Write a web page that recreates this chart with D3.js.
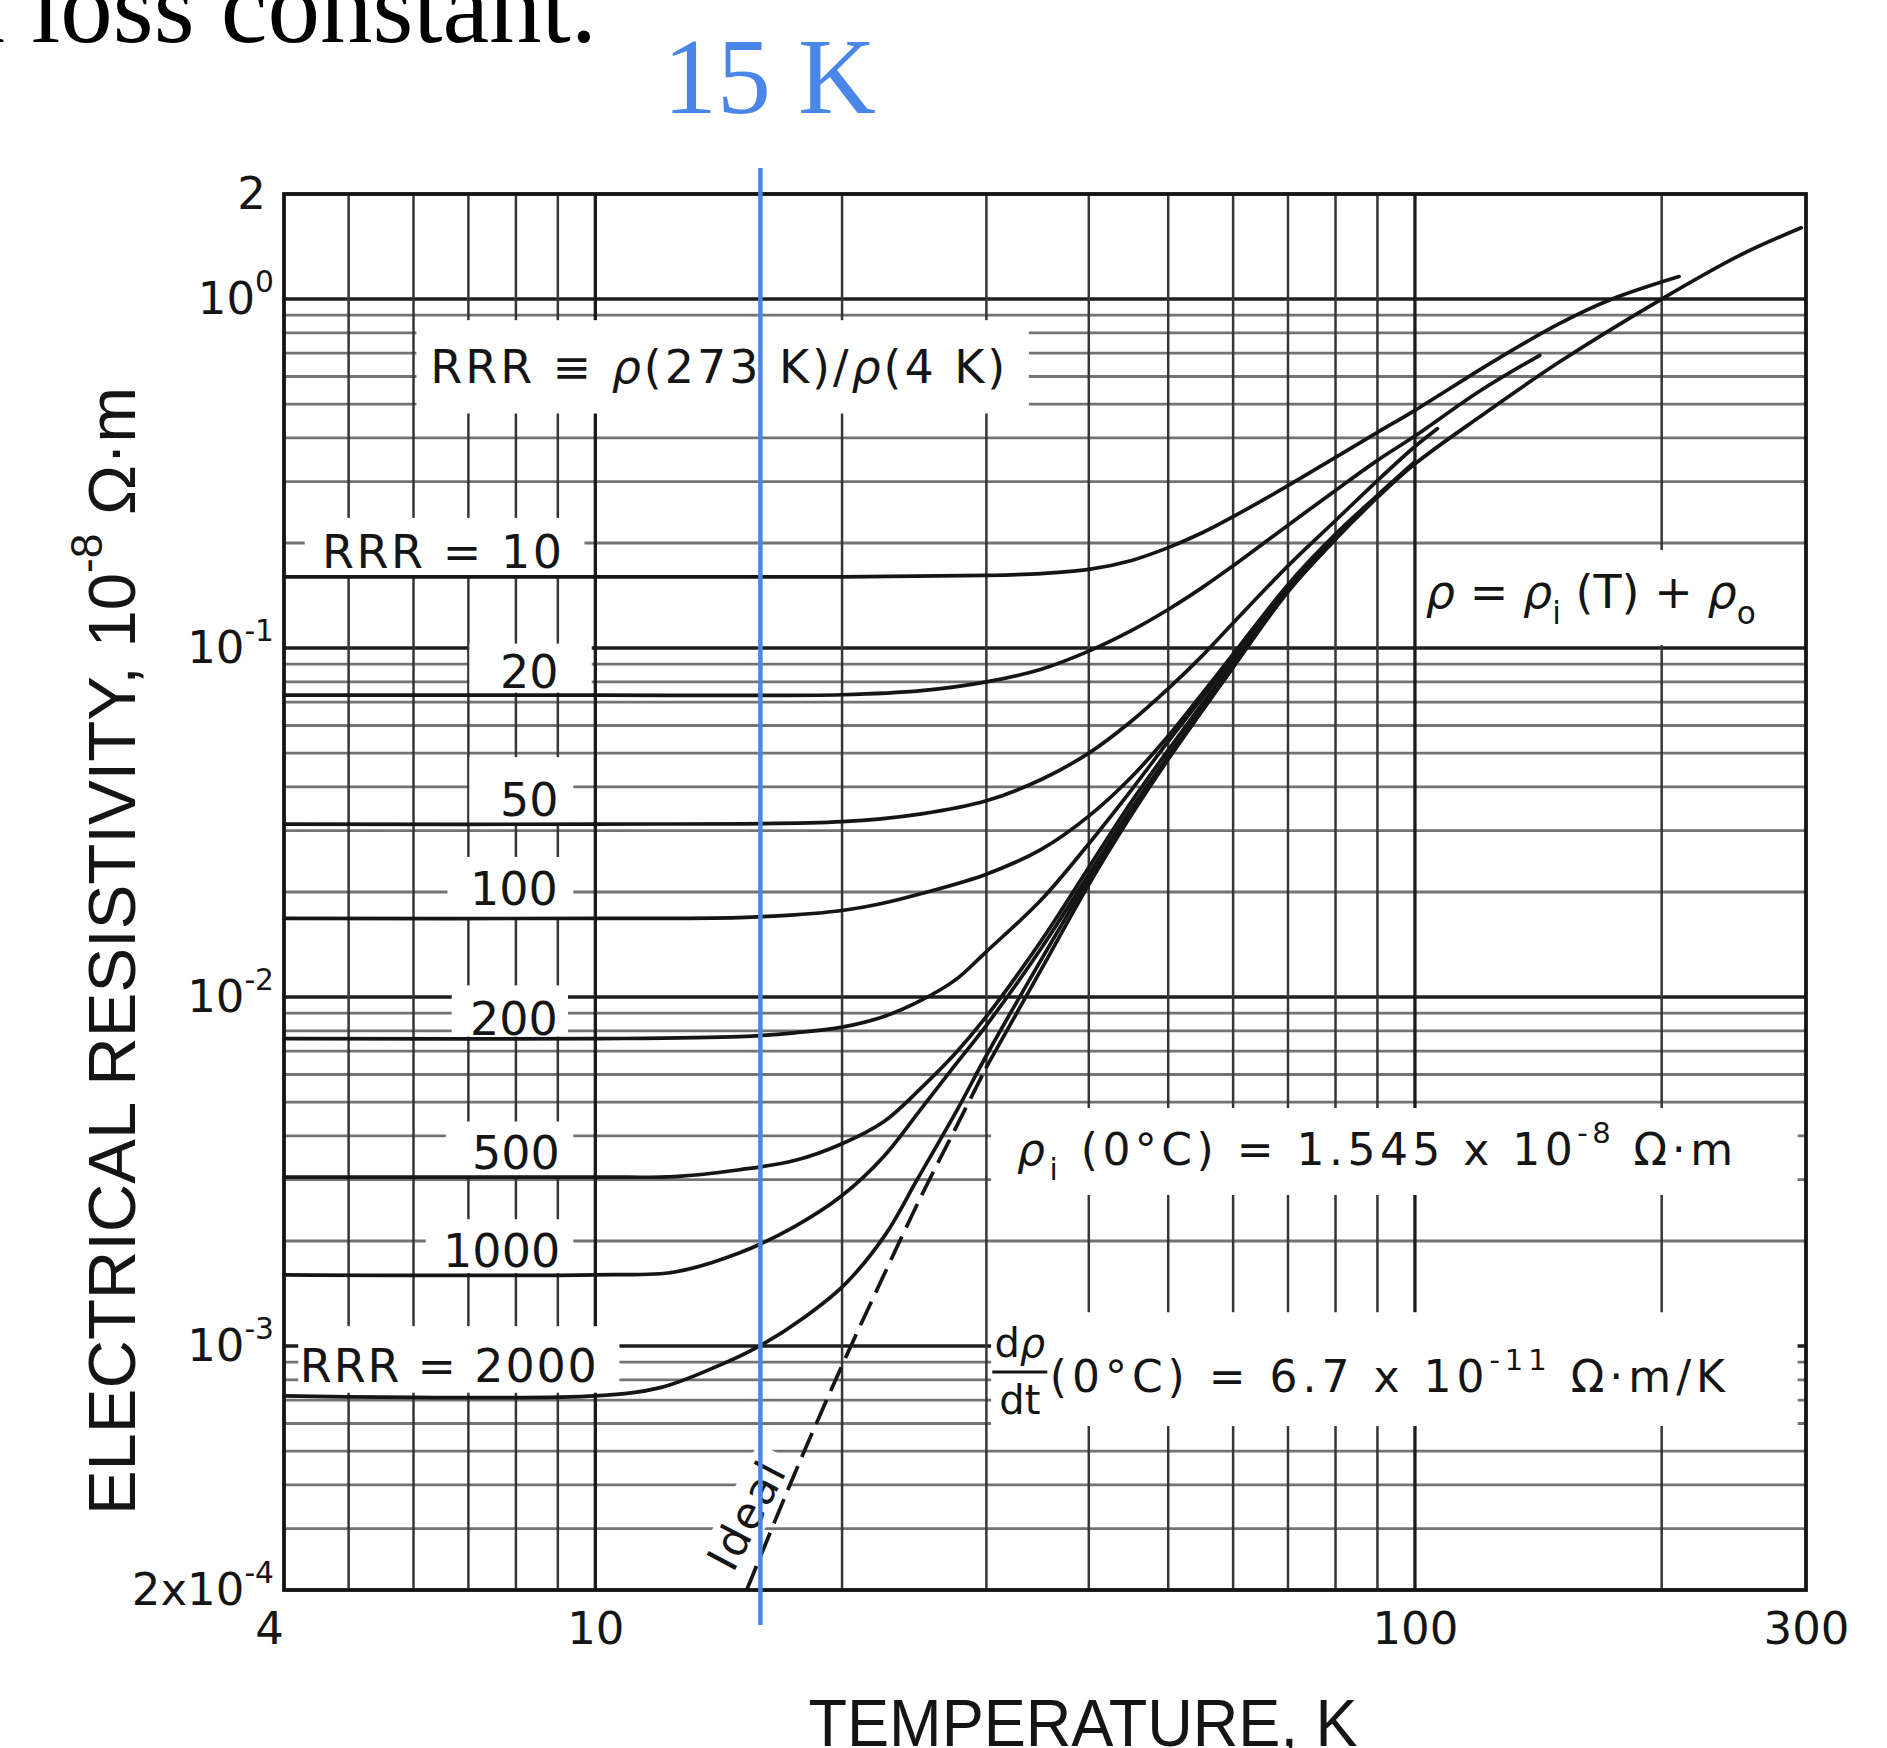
<!DOCTYPE html>
<html>
<head>
<meta charset="utf-8">
<script src="https://cdn.jsdelivr.net/npm/d3@7"></script>
<style>
  html, body { margin: 0; padding: 0; background: #fff; }
  svg { display: block; }
</style>
</head>
<body>
<svg id="chart"></svg>
<script>
// Electrical resistivity of copper vs temperature, one curve per RRR (log-log)
const W = 1887, H = 1748;

// ---- values ----
const tempTicks = [4, 10, 100, 300];
const rhoTicks = [2, 1, 0.1, 0.01, 0.001, 0.0002];
const rhoTickBase = ["2", "10", "10", "10", "10", "2x10"];
const rhoTickSup = ["", "0", "-1", "-2", "-3", "-4"];

const gridTemps = [5, 6, 7, 8, 9, 10, 20, 30, 40, 50, 60, 70, 80, 90, 100, 200];
const majorTemps = [10, 100];
const gridMantissas = [1, 2, 3, 4, 5, 6, 7, 8, 9];

// temperatures in K, resistivity in 1e-8 ohm m
const rrr10T = [4.17, 10, 20, 30, 35, 40, 45, 50, 55, 60, 70, 80, 90, 100, 125, 150, 174, 210];
const rrr10Rho = [0.160, 0.160, 0.160, 0.1615, 0.1635, 0.168, 0.178, 0.194, 0.214, 0.238, 0.292, 0.352, 0.415, 0.48, 0.665, 0.85, 1.0, 1.16];

const rrr20T = [4.17, 10, 20, 25, 30, 35, 40, 45, 50, 55, 60, 70, 80, 90, 100, 120, 142];
const rrr20Rho = [0.0733, 0.0733, 0.0735, 0.0755, 0.080, 0.087, 0.098, 0.112, 0.129, 0.149, 0.172, 0.225, 0.283, 0.345, 0.405, 0.545, 0.69];

const rrr50T = [4.17, 10, 20, 25, 30, 35, 40, 45, 50, 55, 60, 70, 80, 90, 100, 106.5];
const rrr50Rho = [0.0313, 0.0313, 0.0318, 0.0335, 0.0365, 0.042, 0.050, 0.0615, 0.0765, 0.095, 0.118, 0.172, 0.232, 0.302, 0.378, 0.425];

const rrr100T = [4.17, 10, 15, 17.5, 20, 22.5, 25, 30, 35, 40, 45, 50, 55, 60, 70, 80, 90, 100];
const rrr100Rho = [0.0168, 0.0168, 0.0169, 0.0172, 0.0177, 0.0186, 0.0198, 0.0225, 0.0265, 0.033, 0.0425, 0.056, 0.074, 0.096, 0.152, 0.212, 0.274, 0.342];

const rrr200T = [4.17, 10, 15, 17.5, 20, 22.5, 25, 27.5, 30, 35, 40, 45, 50, 55, 60, 70, 80];
const rrr200Rho = [0.0076, 0.0076, 0.0077, 0.0079, 0.0082, 0.0088, 0.0098, 0.0112, 0.0135, 0.019, 0.0275, 0.039, 0.054, 0.072, 0.094, 0.150, 0.207];

const rrr500T = [4.17, 10, 12.5, 15, 17.5, 20, 22.5, 25, 27.5, 30, 35, 40, 45, 50, 60, 70, 80];
const rrr500Rho = [0.00305, 0.00305, 0.00306, 0.0032, 0.0034, 0.0038, 0.0044, 0.0055, 0.0069, 0.0088, 0.0145, 0.0235, 0.036, 0.051, 0.091, 0.147, 0.206];

const rrr1000T = [4.17, 10, 12.5, 15, 17.5, 20, 22.5, 25, 27.5, 30, 35, 40, 45, 50, 60, 70, 80];
const rrr1000Rho = [0.0016, 0.0016, 0.00163, 0.00185, 0.0022, 0.0027, 0.0035, 0.0048, 0.0064, 0.0083, 0.0138, 0.0225, 0.0345, 0.049, 0.089, 0.146, 0.205];

const rrr2000T = [4.17, 10, 12, 14, 15.85, 18, 20.2, 22.6, 24.7, 27.7, 30, 35, 40, 45, 50, 60, 70, 80];
const rrr2000Rho = [0.00072, 0.00072, 0.00076, 0.00087, 0.00100, 0.00121, 0.00151, 0.00209, 0.0030, 0.0048, 0.0068, 0.0128, 0.0218, 0.034, 0.0485, 0.0885, 0.146, 0.205];

const idealT = [15.3, 17.5, 20, 22.5, 25, 27.5, 30, 35, 40, 45, 50, 55, 60, 70, 80, 90, 100, 120, 150, 200, 250, 296];
const idealRho = [0.0002, 0.00043, 0.00088, 0.0016, 0.0027, 0.0042, 0.0063, 0.012, 0.021, 0.033, 0.048, 0.066, 0.088, 0.145, 0.205, 0.27, 0.337, 0.46, 0.66, 1.0, 1.34, 1.6];
const idealDashedUpTo = 30;

const markerT = 15.9; // the blue "15 K" line, where it is drawn on the slide

// ---- scales ----
// the printed frame starts a little above 4 K
const x = d3.scaleLog().domain([4.17, 300]).range([284, 1806]);
const y = d3.scaleLog().domain([0.0002, 2]).range([1590, 194]);

const sans = '"Liberation Sans", Arial, Helvetica, sans-serif';
const wide = '"DejaVu Sans", Verdana, sans-serif';
const serif = '"Liberation Serif", "Times New Roman", serif';
const blue = "#4a86e8";
const ink = "#151515";

const svg = d3.select("#chart").attr("width", W).attr("height", H)
    .style("background", "#fff");

// ---- grid ----
const grid = svg.append("g");
const [x0, x1] = x.range();
const [yb, yt] = y.range();

const rhoGrid = [];
for (let e = -4; e <= 0; e++) {
    gridMantissas.forEach(m => {
        const v = +(m * Math.pow(10, e)).toPrecision(3);
        if (v >= 0.0002 && v <= 2) rhoGrid.push(v);
    });
}

grid.selectAll("line.h").data(rhoGrid).enter().append("line")
    .attr("x1", x0).attr("x2", x1)
    .attr("y1", d => y(d)).attr("y2", d => y(d))
    .attr("stroke", d => Number.isInteger(Math.log10(d)) ? "#1e1e1e" : "#737373")
    .attr("stroke-width", d => Number.isInteger(Math.log10(d)) ? 3.5 : 2.8);

grid.selectAll("line.v").data(gridTemps).enter().append("line")
    .attr("x1", d => x(d)).attr("x2", d => x(d))
    .attr("y1", yt).attr("y2", yb)
    .attr("stroke", d => majorTemps.includes(d) ? "#1a1a1a" : "#363636")
    .attr("stroke-width", d => majorTemps.includes(d) ? 3.3 : 2.5);

// white patches behind the printed labels: [T from, T to, rho low, rho high]
const patches = [
    [6.05, 33.8, 0.47, 0.87],
    [4.42, 9.7, 0.16, 0.236],
    [7.02, 9.9, 0.0745, 0.103],
    [7.02, 9.4, 0.0313, 0.0487],
    [6.6, 9.4, 0.0169, 0.0252],
    [6.68, 9.26, 0.0077, 0.0108],
    [6.57, 9.4, 0.00307, 0.0044],
    [6.21, 9.4, 0.00162, 0.00231],
    [4.34, 10.7, 0.000735, 0.00114],
    [103, 293, 0.102, 0.191],
    [30.4, 293, 0.00271, 0.00481],
    [30.4, 293, 0.00059, 0.00125]
];
svg.append("g").selectAll("rect").data(patches).enter().append("rect")
    .attr("x", d => x(d[0])).attr("width", d => x(d[1]) - x(d[0]))
    .attr("y", d => y(d[3])).attr("height", d => y(d[2]) - y(d[3]))
    .attr("fill", "#fff");

// "Ideal" sits on a rotated white patch
const idealLabelT = 15.3, idealLabelRho = 0.000326, idealAngle = -62;
const idealG = svg.append("g")
    .attr("transform", `translate(${x(idealLabelT)},${y(idealLabelRho)}) rotate(${idealAngle})`);
idealG.append("rect").attr("x", -70).attr("y", -24).attr("width", 140).attr("height", 46).attr("fill", "#fff");

// ---- curves ----
const curves = [
    [rrr10T, rrr10Rho], [rrr20T, rrr20Rho], [rrr50T, rrr50Rho], [rrr100T, rrr100Rho],
    [rrr200T, rrr200Rho], [rrr500T, rrr500Rho], [rrr1000T, rrr1000Rho], [rrr2000T, rrr2000Rho]
].map(([ts, rs]) => ts.map((t, i) => [t, rs[i]]));

const line = d3.line()
    .x(d => x(d[0]))
    .y(d => y(d[1]))
    .curve(d3.curveCatmullRom.alpha(0.5));

const curveG = svg.append("g").attr("fill", "none").attr("stroke", ink)
    .attr("stroke-width", 3.7).attr("stroke-linecap", "round");

curveG.selectAll("path.rrr").data(curves).enter().append("path")
    .attr("d", line);

const idealPts = idealT.map((t, i) => [t, idealRho[i]]);
curveG.append("path")
    .attr("d", line(idealPts.filter(d => d[0] <= idealDashedUpTo)))
    .attr("stroke-dasharray", "26,10").attr("stroke-linecap", "butt");
curveG.append("path")
    .attr("d", line(idealPts.filter(d => d[0] >= idealDashedUpTo)));

// frame
svg.append("rect")
    .attr("x", x0).attr("y", yt).attr("width", x1 - x0).attr("height", yb - yt)
    .attr("fill", "none").attr("stroke", ink).attr("stroke-width", 3.8);

// ---- text helpers ----
function richText(g, px, py, size, parts, opts = {}) {
    const t = g.append("text").attr("x", px).attr("y", py)
        .attr("font-size", size).attr("font-family", opts.family || wide)
        .attr("fill", opts.fill || ink);
    if (opts.anchor) t.attr("text-anchor", opts.anchor);
    if (opts.len) t.attr("textLength", opts.len).attr("lengthAdjust", opts.adjust || "spacing");
    let shift = 0;
    parts.forEach(([s, kind]) => {
        const sp = t.append("tspan").text(s);
        let target = 0, fs = size;
        if (kind === "sub") { target = size * 0.34; fs = size * 0.68; }
        if (kind === "sup") { target = -size * 0.5; fs = size * 0.66; }
        if (target - shift !== 0) sp.attr("dy", target - shift);
        sp.attr("font-size", fs);
        if (kind === "it") sp.attr("font-style", "italic");
        shift = target;
    });
    return t;
}

const labelG = svg.append("g");

// curve labels and equations, anchored in data units (T, rho at the baseline start)
const labels = [
    { t: 6.29, r: 0.575, size: 46, len: 575, parts: [["RRR ≡ "], ["ρ", "it"], ["(273 K)/"], ["ρ", "it"], ["(4 K)"]] },
    { t: 4.64, r: 0.1696, size: 46, len: 240, parts: [["RRR = 10"]] },
    { t: 7.65, r: 0.0768, size: 46, parts: [["20"]] },
    { t: 7.65, r: 0.033, size: 46, parts: [["50"]] },
    { t: 7.03, r: 0.01836, size: 46, parts: [["100"]] },
    { t: 7.03, r: 0.00778, size: 46, parts: [["200"]] },
    { t: 7.07, r: 0.00322, size: 46, parts: [["500"]] },
    { t: 6.52, r: 0.00168, size: 46, parts: [["1000"]] },
    { t: 4.36, r: 0.000789, size: 46, len: 297, parts: [["RRR = 2000"]] },
    { t: 103.1, r: 0.130, size: 46, len: 330, parts: [["ρ", "it"], [" = "], ["ρ", "it"], ["i", "sub"], [" (T) + "], ["ρ", "it"], ["o", "sub"]] },
    { t: 32.7, r: 0.0033, size: 44, len: 716, parts: [["ρ", "it"], ["i", "sub"], [" (0°C) = 1.545 x 10"], ["-8", "sup"], [" Ω·m"]] },
    { t: 35.85, r: 0.000738, size: 44, len: 675, parts: [["(0°C) = 6.7 x 10"], ["-11", "sup"], [" Ω·m/K"]] }
];
labels.forEach(l => richText(labelG, x(l.t), y(l.r), l.size, l.parts, { len: l.len }));

// d rho / dt fraction
const fracT0 = 30.5, fracT1 = 35.6;
richText(labelG, (x(fracT0) + x(fracT1)) / 2, y(0.00093), 40, [["d"], ["ρ", "it"]], { anchor: "middle" });
richText(labelG, (x(fracT0) + x(fracT1)) / 2, y(0.000639), 40, [["dt"]], { anchor: "middle" });
labelG.append("line")
    .attr("x1", x(fracT0)).attr("x2", x(fracT1))
    .attr("y1", y(0.000843)).attr("y2", y(0.000843))
    .attr("stroke", ink).attr("stroke-width", 3);

idealG.append("text").attr("text-anchor", "middle").attr("y", 15)
    .attr("font-family", wide).attr("font-size", 44).attr("fill", ink)
    .attr("textLength", 115).attr("lengthAdjust", "spacing").text("Ideal");

// ---- axes ----
const xAxis = svg.append("g")
    .attr("transform", `translate(0,${yb})`)
    .call(d3.axisBottom(x).tickValues(tempTicks).tickSize(0).tickPadding(22).tickFormat(d3.format("d")));
xAxis.select(".domain").remove();
xAxis.selectAll("text").attr("font-family", wide).attr("font-size", 45).attr("fill", ink);

const yLab = svg.append("g");
rhoTicks.forEach((v, i) => {
    const parts = [[rhoTickBase[i]]];
    if (rhoTickSup[i]) parts.push([rhoTickSup[i], "sup"]);
    richText(yLab, x0 - (rhoTickSup[i] ? 10 : 18), y(v) + 15, 45, parts, { anchor: "end" });
});

richText(svg, 1083, 1746, 66, [["TEMPERATURE, K"]],
    { anchor: "middle", len: 549, adjust: "spacingAndGlyphs", family: sans });

const yTitle = svg.append("g").attr("transform", `translate(135,${(yt + yb) / 2 + 59}) rotate(-90)`);
richText(yTitle, 0, 0, 67, [["ELECTRICAL RESISTIVITY, 10"], ["-8", "sup"], [" Ω·m"]], { anchor: "middle", family: sans });

// ---- slide overlay: marker line, its label, and the cut-off sentence above ----
svg.append("line")
    .attr("x1", x(markerT)).attr("x2", x(markerT))
    .attr("y1", yt - 26).attr("y2", yb + 35)
    .attr("stroke", blue).attr("stroke-width", 4.5);

svg.append("text").attr("x", x(markerT) + 9).attr("y", 113)
    .attr("text-anchor", "middle").attr("font-family", serif)
    .attr("font-size", 108).attr("fill", blue).text("15 K");

svg.append("text").attr("x", 597).attr("y", 42)
    .attr("text-anchor", "end").attr("font-family", serif)
    .attr("font-size", 105).attr("fill", "#000").text("a loss constant.");
</script>
</body>
</html>
